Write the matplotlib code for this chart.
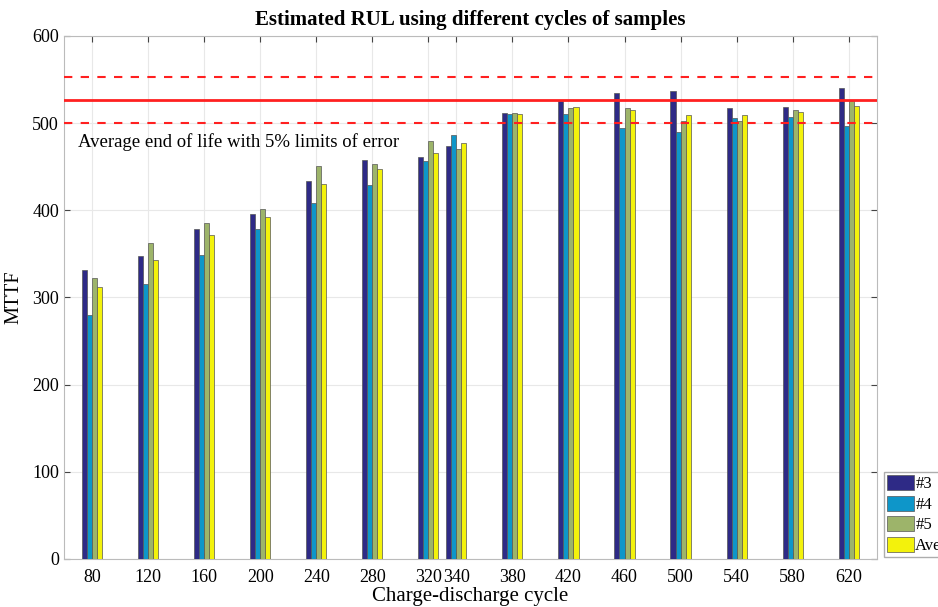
import numpy as np
import matplotlib
matplotlib.use("Agg")
import matplotlib.pyplot as plt

# Datos
cycles = [80, 120, 160, 200, 240, 280, 320, 340, 380, 420, 460, 500, 540, 580, 620]
s3 = [331, 348, 379, 396, 434, 458, 461, 474, 512, 525, 535, 537, 517, 518, 540]
s4 = [280, 316, 349, 379, 408, 429, 457, 486, 510, 511, 494, 490, 506, 507, 497]
s5 = [322, 363, 386, 402, 451, 453, 480, 470, 512, 517, 517, 502, 503, 515, 525]
ave = [312, 343, 372, 392, 430, 447, 466, 477, 511, 518, 515, 509, 509, 513, 520]
series = [s3, s4, s5, ave]
names = ['#3', '#4', '#5', 'Average']
colors = ['#2e2a86', '#0e96c9', '#9db46a', '#f3f20c']

eol = 527        # vida media al final
limit = 0.05     # 5% de error

plt.rcParams['font.family'] = ['Liberation Serif', 'DejaVu Serif']

fig = plt.figure(figsize=(9.38, 6.07), dpi=100)
ax = fig.add_axes([0.0682, 0.0791, 0.8665, 0.8616])

w = 3.6
x = np.array(cycles)
for i, (vals, name, c) in enumerate(zip(series, names, colors)):
    ax.bar(x + (i - 1.5) * w, vals, width=w, color=c, edgecolor='#555555',
           linewidth=0.5, label=name, zorder=3)

ax.axhline(eol, color='#ff2020', linewidth=2, zorder=4)
ax.axhline(eol * (1 - limit), color='#ff2020', linewidth=1.5, linestyle=(0, (4, 4)), zorder=4)
ax.axhline(eol * (1 + limit), color='#ff2020', linewidth=1.5, linestyle=(0, (4, 4)), zorder=4)
ax.text(70, 478, 'Average end of life with 5% limits of error', fontsize=13.5,
        va='center', ha='left')

ax.set_xlim(60, 640)
ax.set_ylim(0, 600)
ax.set_xticks(cycles)
ax.set_xticklabels([str(c) for c in cycles])
ax.set_yticks(np.arange(0, 601, 100))
ax.tick_params(direction='in', labelsize=13, top=True, right=True, length=4,
               color='#444444')
ax.tick_params(axis='x', pad=7)
ax.grid(True, color='#e8e8e8', linewidth=0.8, zorder=0)
ax.set_axisbelow(True)
for sp in ax.spines.values():
    sp.set_color('#bbbbbb')

ax.set_title('Estimated RUL using different cycles of samples', fontsize=15,
             fontweight='bold', pad=8)
ax.set_xlabel('Charge-discharge cycle', fontsize=15, labelpad=1)
ax.set_ylabel('MTTF', fontsize=14.5, labelpad=6)

ax.legend(loc='lower left', bbox_to_anchor=(0.942, 0.082), bbox_transform=fig.transFigure,
          fontsize=12, frameon=True, fancybox=False, edgecolor='#999999',
          handlelength=1.6, handleheight=1.0, handletextpad=0.1, labelspacing=0.2,
          borderpad=0.2, borderaxespad=0)

fig.savefig('out.png', dpi=100)
